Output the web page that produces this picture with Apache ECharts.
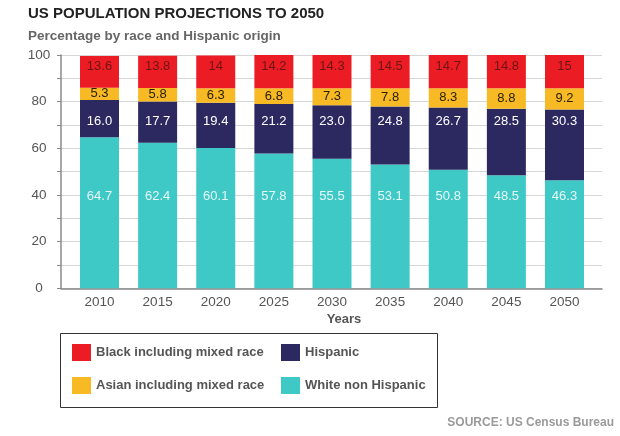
<!DOCTYPE html>
<html>
<head>
<meta charset="utf-8">
<script src="https://cdn.jsdelivr.net/npm/echarts@6/dist/echarts.min.js"></script>
<style>
html,body{margin:0;padding:0;background:#fff;}
#chart{width:620px;height:436px;}
</style>
</head>
<body>
<div id="chart"></div>
<script>
// ---- data ----
const years = ['2010','2015','2020','2025','2030','2035','2040','2045','2050'];
const whiteNonHispanic = [64.7, 62.4, 60.1, 57.8, 55.5, 53.1, 50.8, 48.5, 46.3];
const hispanic = [16.0, 17.7, 19.4, 21.2, 23.0, 24.8, 26.7, 28.5, 30.3];
const asian = [5.3, 5.8, 6.3, 6.8, 7.3, 7.8, 8.3, 8.8, 9.2];
const black = [13.6, 13.8, 14, 14.2, 14.3, 14.5, 14.7, 14.8, 15];
const yTicks = [0, 20, 40, 60, 80, 100];
const seriesNames = ['Black including mixed race', 'Asian including mixed race', 'Hispanic', 'White non Hispanic'];

const FONT = 'Liberation Sans, Arial, sans-serif';
const colors = {
  black: '#ec1c24',
  asian: '#f7b924',
  hispanic: '#2c2961',
  white: '#3fc9c6'
};

// label levels (value-axis units) used by the in-bar labels
const whiteLabelLevel = 39.3;
const hispLabelLevel = 71.4;
const blackLabelLevel = 95;

const chart = echarts.init(document.getElementById('chart'), null, {renderer: 'canvas'});

function fmt1(v){ return v.toFixed(1); }

const legendText = {fontFamily: FONT, fontSize: 13, fontWeight: 'bold', color: '#555', lineHeight: 23};

const option = {
  backgroundColor: '#fff',
  animation: false,
  title: [
    {text: 'US POPULATION PROJECTIONS TO 2050', left: 28, top: 6, padding: 0,
     textStyle: {fontFamily: FONT, fontSize: 15, fontWeight: 'bold', color: '#222'}},
    {text: 'Percentage by race and Hispanic origin', left: 28, top: 29, padding: 0,
     textStyle: {fontFamily: FONT, fontSize: 13.5, fontWeight: 'bold', color: '#666'}},
    {text: 'Years', left: 344, top: 313, padding: 0, textAlign: 'center',
     textStyle: {fontFamily: FONT, fontSize: 13, fontWeight: 'bold', color: '#555'}},
    {text: 'SOURCE: US Census Bureau', right: 6, top: 417, padding: 0,
     textStyle: {fontFamily: FONT, fontSize: 12, fontWeight: 'bold', color: '#9a9a9a'}}
  ],
  legend: [
    {orient: 'vertical', left: 72, top: 341, padding: 0, itemWidth: 19, itemHeight: 17, itemGap: 10,
     icon: 'rect', selectedMode: false,
     data: [seriesNames[0], seriesNames[1]],
     textStyle: legendText},
    {orient: 'vertical', left: 281, top: 341, padding: 0, itemWidth: 19, itemHeight: 17, itemGap: 10,
     icon: 'rect', selectedMode: false,
     data: [seriesNames[2], seriesNames[3]],
     textStyle: legendText}
  ],
  graphic: [
    {type: 'rect', shape: {x: 60.5, y: 333.5, width: 377, height: 74},
     style: {fill: 'none', stroke: '#333', lineWidth: 1}, z: 0}
  ],
  grid: [
    {left: 70.44, right: 26.44, top: 55, bottom: 147.7},
    {left: 61, right: 18, top: 55, bottom: 147.7}
  ],
  xAxis: [
    {type: 'category', gridIndex: 0, data: years,
     axisLine: {show: false}, axisTick: {show: false},
     axisLabel: {fontFamily: FONT, fontSize: 13.5, color: '#555', margin: 7}},
    {type: 'value', gridIndex: 1, min: 0, max: 1,
     axisLine: {show: true, lineStyle: {color: '#888', width: 1.5}},
     axisTick: {show: false}, axisLabel: {show: false}, splitLine: {show: false}}
  ],
  yAxis: [
    {type: 'value', gridIndex: 0, min: 0, max: 100, show: false},
    {type: 'value', gridIndex: 1, min: 0, max: 100, interval: 10,
     axisLine: {show: true, lineStyle: {color: '#888', width: 1.5}},
     axisTick: {show: true, length: 4, lineStyle: {color: '#888'}},
     splitLine: {show: true, lineStyle: {color: '#d6d6d6', width: 1}},
     axisLabel: {fontFamily: FONT, fontSize: 13.5, color: '#555', margin: 22, align: 'center',
       formatter: function(v){ return yTicks.indexOf(v) >= 0 ? String(v) : ''; }}}
  ],
  series: [
    {name: seriesNames[3], type: 'bar', stack: 'pop', xAxisIndex: 0, yAxisIndex: 0,
     data: whiteNonHispanic, barWidth: 39, itemStyle: {color: colors.white}},
    {name: seriesNames[2], type: 'bar', stack: 'pop', xAxisIndex: 0, yAxisIndex: 0,
     data: hispanic, barWidth: 39, itemStyle: {color: colors.hispanic}},
    {name: seriesNames[1], type: 'bar', stack: 'pop', xAxisIndex: 0, yAxisIndex: 0,
     data: asian, barWidth: 39, itemStyle: {color: colors.asian}},
    {name: seriesNames[0], type: 'bar', stack: 'pop', xAxisIndex: 0, yAxisIndex: 0,
     data: black, barWidth: 39, itemStyle: {color: colors.black}},
    {type: 'custom', xAxisIndex: 0, yAxisIndex: 0, z: 10, silent: true,
     data: years.map(function(y, i){ return [i]; }),
     renderItem: function(params, api){
       const i = params.dataIndex;
       const asianMid = whiteNonHispanic[i] + hispanic[i] + asian[i] / 2;
       const items = [
         {lvl: whiteLabelLevel, txt: fmt1(whiteNonHispanic[i]), fill: '#e6f7f7', w: 'normal'},
         {lvl: hispLabelLevel, txt: fmt1(hispanic[i]), fill: '#ffffff', w: 'normal'},
         {lvl: asianMid, txt: fmt1(asian[i]), fill: '#2a2008', w: 'normal'},
         {lvl: blackLabelLevel, txt: String(black[i]), fill: '#6e1414', w: 'normal'}
       ];
       return {
         type: 'group',
         children: items.map(function(it){
           const p = api.coord([i, it.lvl]);
           return {type: 'text', x: p[0], y: p[1],
             style: {text: it.txt, fill: it.fill, font: it.w + ' 13px ' + FONT,
                     align: 'center', verticalAlign: 'middle'}};
         })
       };
     }}
  ]
};
chart.setOption(option);
</script>
</body>
</html>
